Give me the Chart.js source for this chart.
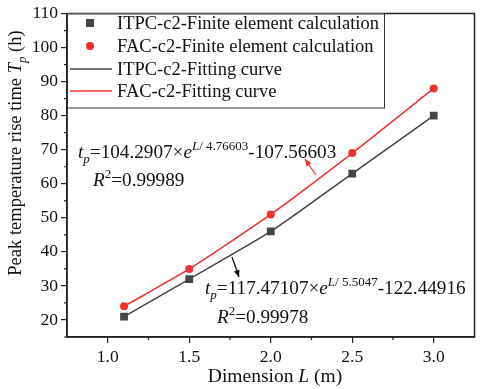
<!DOCTYPE html>
<html lang="en">
<head>
  <title>Peak temperature rise time</title>
  <style>
    body {
      margin: 0;
      background: #fff;
    }
    #chart-container {
      width: 480px;
      height: 389px;
    }
  </style>
  <script src="https://cdn.jsdelivr.net/npm/chart.js"></script>
</head>
<body>
<div id="chart-container">
  <canvas id="tpChart" width="480" height="389"></canvas>
</div>
<script>
// Data
var dims = [1.1, 1.5, 2.0, 2.5, 3.0];
var itpcValues = [21, 32, 46, 63, 80];
var facValues = [24, 35, 51, 69, 88];
var xTicks = [1.0, 1.5, 2.0, 2.5, 3.0];
var yTicks = [20, 30, 40, 50, 60, 70, 80, 90, 100, 110];
var legendLabels = [
  'ITPC-c2-Finite element calculation',
  'FAC-c2-Finite element calculation',
  'ITPC-c2-Fitting curve',
  'FAC-c2-Fitting curve'
];

var GRAY = '#454545';
var RED = '#f0302f';
var FONT = '"Liberation Serif", "Times New Roman", serif';

function toPoints(values) {
  var pts = [];
  for (var i = 0; i < dims.length; i++) {
    pts.push({ x: dims[i], y: values[i] });
  }
  return pts;
}

// draw a run of text pieces: {t, it, sup, sub}
function drawRich(ctx, x, y, parts, size) {
  ctx.textBaseline = 'alphabetic';
  ctx.textAlign = 'left';
  for (var i = 0; i < parts.length; i++) {
    var p = parts[i];
    var s = (p.sup || p.sub) ? Math.round(size * 0.7) : size;
    var dy = p.sup ? -size * 0.42 : (p.sub ? size * 0.28 : 0);
    ctx.font = (p.it ? 'italic ' : '') + s + 'px ' + FONT;
    ctx.fillText(p.t, x, y + dy);
    x += ctx.measureText(p.t).width;
  }
  return x;
}

function richWidth(ctx, parts, size) {
  var w = 0;
  for (var i = 0; i < parts.length; i++) {
    var p = parts[i];
    var s = (p.sup || p.sub) ? Math.round(size * 0.7) : size;
    ctx.font = (p.it ? 'italic ' : '') + s + 'px ' + FONT;
    w += ctx.measureText(p.t).width;
  }
  return w;
}

function arrow(ctx, x1, y1, x2, y2, color) {
  ctx.save();
  ctx.strokeStyle = color;
  ctx.fillStyle = color;
  ctx.lineWidth = 1.3;
  ctx.beginPath();
  ctx.moveTo(x1, y1);
  ctx.lineTo(x2, y2);
  ctx.stroke();
  var a = Math.atan2(y2 - y1, x2 - x1);
  var L = 7, w = 3;
  ctx.beginPath();
  ctx.moveTo(x2, y2);
  ctx.lineTo(x2 - L * Math.cos(a) + w * Math.sin(a), y2 - L * Math.sin(a) - w * Math.cos(a));
  ctx.lineTo(x2 - L * Math.cos(a) - w * Math.sin(a), y2 - L * Math.sin(a) + w * Math.cos(a));
  ctx.closePath();
  ctx.fill();
  ctx.restore();
}

var decorPlugin = {
  id: 'decor',
  afterDraw: function(chart) {
    var ctx = chart.ctx;
    var a = chart.chartArea;
    var xs = chart.scales.x, ys = chart.scales.y;
    ctx.save();

    // frame
    ctx.strokeStyle = '#222';
    ctx.lineWidth = 1.5;
    ctx.strokeRect(a.left, a.top, a.right - a.left, a.bottom - a.top);

    // minor ticks
    ctx.lineWidth = 1.2;
    ctx.beginPath();
    for (var v = 1.25; v < 3.25; v += 0.5) {
      var px = xs.getPixelForValue(v);
      ctx.moveTo(px, a.bottom);
      ctx.lineTo(px, a.bottom + 3);
    }
    for (var w = 15; w < 110; w += 10) {
      var py = ys.getPixelForValue(w);
      ctx.moveTo(a.left, py);
      ctx.lineTo(a.left - 3, py);
    }
    ctx.stroke();

    // legend box
    var lx = a.left, ly = a.top, lw = 317, lh = 94;
    ctx.fillStyle = '#fff';
    ctx.fillRect(lx, ly, lw, lh);
    ctx.strokeStyle = '#333';
    ctx.lineWidth = 1;
    ctx.strokeRect(lx + 0.5, ly + 0.5, lw, lh);
    var rows = [23, 46, 69, 91];
    ctx.font = '18.5px ' + FONT;
    ctx.textBaseline = 'middle';
    ctx.textAlign = 'left';
    for (var i = 0; i < 4; i++) {
      var ry = rows[i];
      if (i === 0) {
        ctx.fillStyle = GRAY;
        ctx.fillRect(86, ry - 4, 8, 8);
      } else if (i === 1) {
        ctx.fillStyle = RED;
        ctx.beginPath();
        ctx.arc(90, ry, 4, 0, Math.PI * 2);
        ctx.fill();
      } else {
        ctx.strokeStyle = i === 2 ? GRAY : RED;
        ctx.lineWidth = 1.5;
        ctx.beginPath();
        ctx.moveTo(70, ry);
        ctx.lineTo(112, ry);
        ctx.stroke();
      }
      ctx.fillStyle = '#111';
      ctx.fillText(legendLabels[i], 117, ry + 1);
    }

    // equations
    ctx.fillStyle = '#111';
    drawRich(ctx, 78, 158, [
      { t: 't', it: true }, { t: 'p', it: true, sub: true },
      { t: '=104.2907\u00d7' }, { t: 'e', it: true },
      { t: 'L', it: true, sup: true }, { t: '/ 4.76603', sup: true },
      { t: '-107.56603' }
    ], 19.2);
    drawRich(ctx, 93, 186, [
      { t: 'R', it: true }, { t: '2', sup: true }, { t: '=0.99989' }
    ], 19.2);
    drawRich(ctx, 205, 294, [
      { t: 't', it: true }, { t: 'p', it: true, sub: true },
      { t: '=117.47107\u00d7' }, { t: 'e', it: true },
      { t: 'L', it: true, sup: true }, { t: '/ 5.5047', sup: true },
      { t: '-122.44916' }
    ], 19.2);
    drawRich(ctx, 217, 323, [
      { t: 'R', it: true }, { t: '2', sup: true }, { t: '=0.99978' }
    ], 19.2);

    arrow(ctx, 316, 175, 305, 159, RED);
    arrow(ctx, 232, 257, 239, 277, '#111');

    // axis titles
    ctx.fillStyle = '#111';
    var xt = [{ t: 'Dimension ' }, { t: 'L', it: true }, { t: ' (m)' }];
    var tw = richWidth(ctx, xt, 19.5);
    drawRich(ctx, 275 - tw / 2, 382, xt, 19.5);

    ctx.translate(21, 0);
    ctx.rotate(-Math.PI / 2);
    var yt = [{ t: 'Peak temperature rise time ' }, { t: 'T', it: true },
              { t: 'p', it: true, sub: true }, { t: ' (h)' }];
    var th = richWidth(ctx, yt, 18.5);
    drawRich(ctx, -153 - th / 2, 0, yt, 18.5);
    ctx.restore();
  }
};

var ctx = document.getElementById('tpChart').getContext('2d');
var tpChart = new Chart(ctx, {
  type: 'line',
  data: {
    datasets: [
      { data: toPoints(itpcValues), borderColor: GRAY, borderWidth: 1.5, pointRadius: 0, tension: 0.2 },
      { data: toPoints(facValues), borderColor: RED, borderWidth: 1.5, pointRadius: 0, tension: 0.2 },
      { data: toPoints(itpcValues), showLine: false, pointStyle: 'rect', pointRadius: 5.5,
        backgroundColor: GRAY, borderColor: GRAY, borderWidth: 0 },
      { data: toPoints(facValues), showLine: false, pointStyle: 'circle', pointRadius: 4,
        backgroundColor: RED, borderColor: RED, borderWidth: 0 }
    ]
  },
  options: {
    responsive: false,
    animation: false,
    layout: { padding: { top: 10, right: 3, left: 0, bottom: 0 } },
    plugins: { legend: { display: false }, tooltip: { enabled: false } },
    scales: {
      x: {
        type: 'linear',
        min: 0.75,
        max: 3.25,
        afterBuildTicks: function(s) { s.ticks = xTicks.map(function(v) { return { value: v }; }); },
        afterFit: function(s) { s.height = 52; },
        border: { display: true, color: '#222', width: 1.5 },
        grid: { drawOnChartArea: false, drawTicks: true, tickLength: 6, color: '#222', lineWidth: 1.2 },
        ticks: {
          color: '#111',
          padding: 4,
          font: { family: FONT, size: 17.5 },
          callback: function(v) { return Number(v).toFixed(1); }
        }
      },
      y: {
        min: 15,
        max: 110,
        afterBuildTicks: function(s) { s.ticks = yTicks.map(function(v) { return { value: v }; }); },
        afterFit: function(s) { s.width = 67; },
        border: { display: true, color: '#222', width: 1.5 },
        grid: { drawOnChartArea: false, drawTicks: true, tickLength: 6, color: '#222', lineWidth: 1.2 },
        ticks: {
          color: '#111',
          padding: 3,
          font: { family: FONT, size: 17.5 }
        }
      }
    }
  },
  plugins: [decorPlugin]
});
</script>
</body>
</html>
